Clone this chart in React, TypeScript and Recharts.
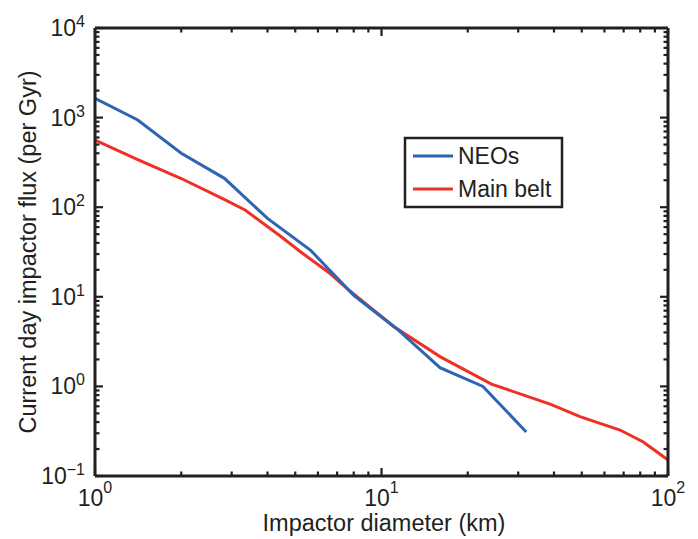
import React from 'react';
import { LineChart, Line, XAxis, YAxis, ReferenceLine } from 'recharts';

const neoX = [1, 1.41, 2, 2.83, 4, 5.66, 8, 11.3, 16, 22.6, 32];
const neoY = [1640, 940, 400, 210, 75, 33, 10.4, 4.4, 1.62, 1.0, 0.31];

const beltX = [1, 1.41, 2, 2.8, 3.34, 4.42, 5.2, 6.6, 7.76, 11, 16, 24.2, 39, 49.3, 68, 82, 100];
const beltY = [562, 340, 209, 124, 93, 48, 32, 18.3, 11.6, 4.7, 2.15, 1.06, 0.63, 0.46, 0.326, 0.24, 0.151];

const xTicks = [1, 2, 3, 4, 5, 6, 7, 8, 9, 10, 20, 30, 40, 50, 60, 70, 80, 90, 100];
const yTicks = [
  0.1, 0.2, 0.3, 0.4, 0.5, 0.6, 0.7, 0.8, 0.9,
  1, 2, 3, 4, 5, 6, 7, 8, 9,
  10, 20, 30, 40, 50, 60, 70, 80, 90,
  100, 200, 300, 400, 500, 600, 700, 800, 900,
  1000, 2000, 3000, 4000, 5000, 6000, 7000, 8000, 9000, 10000,
];
const xMajor = [1, 10, 100];
const yMajor = [0.1, 1, 10, 100, 1000, 10000];

const neoData = neoX.map((x, i) => ({ x, y: neoY[i] }));
const beltData = beltX.map((x, i) => ({ x, y: beltY[i] }));

const INK = '#231f20';
const BLUE = '#2e64b4';
const RED = '#ee3124';
const FONT = 'Liberation Sans, Arial, Helvetica, sans-serif';

const expOf = (v: number) => Math.round(Math.log10(v));
const isMajor = (v: number) => Math.abs(Math.log10(v) - Math.round(Math.log10(v))) < 1e-6;
const expStr = (e: number) => (e < 0 ? '\u2212' + Math.abs(e) : String(e));

const MAJ = 8;
const MIN = 4.5;

const BottomLabel = (props: any) => {
  const { x, y, payload } = props;
  return (
    <text x={x} y={y + 30} textAnchor="middle" fontSize={23} fill={INK} fontFamily={FONT}>
      10
      <tspan dy={-13} fontSize={16}>{expStr(expOf(payload.value))}</tspan>
    </text>
  );
};

const LeftLabel = (props: any) => {
  const { x, y, payload } = props;
  return (
    <text x={x - 10} y={y + 8} textAnchor="end" fontSize={23} fill={INK} fontFamily={FONT}>
      10
      <tspan dy={-9} fontSize={16}>{expStr(expOf(payload.value))}</tspan>
    </text>
  );
};

const VTick = (props: any) => {
  const { x1, y1, y2, len } = props;
  const top = Math.min(y1, y2);
  const bot = Math.max(y1, y2);
  return (
    <g>
      <line x1={x1} x2={x1} y1={bot} y2={bot - len} stroke={INK} strokeWidth={2.2} />
      <line x1={x1} x2={x1} y1={top} y2={top + len} stroke={INK} strokeWidth={2.2} />
    </g>
  );
};

const HTick = (props: any) => {
  const { x1, x2, y1, len } = props;
  const l = Math.min(x1, x2);
  const r = Math.max(x1, x2);
  return (
    <g>
      <line x1={l} x2={l + len} y1={y1} y2={y1} stroke={INK} strokeWidth={2.2} />
      <line x1={r} x2={r - len} y1={y1} y2={y1} stroke={INK} strokeWidth={2.2} />
    </g>
  );
};

export default function App() {
  return (
    <div style={{ position: 'absolute', left: 0, top: 0, width: 698, height: 539, background: '#fff' }}>
      <LineChart
        width={698}
        height={539}
        margin={{ top: 28, right: 30, bottom: 23, left: 35 }}
      >
        <XAxis
          dataKey="x"
          type="number"
          scale="log"
          domain={[1, 100]}
          allowDataOverflow
          ticks={xMajor}
          interval={0}
          tickSize={0}
          tickMargin={0}
          tickLine={false}
          axisLine={false}
          tick={<BottomLabel />}
          height={40}
        />
        <YAxis
          dataKey="y"
          type="number"
          scale="log"
          domain={[0.1, 10000]}
          allowDataOverflow
          ticks={yMajor}
          interval={0}
          tickSize={0}
          tickMargin={0}
          tickLine={false}
          axisLine={false}
          tick={<LeftLabel />}
          width={60}
        />
        {xTicks.map((v) => (
          <ReferenceLine
            key={'xt' + v}
            x={v}
            ifOverflow="visible"
            stroke={INK}
            shape={(p: any) => <VTick {...p} len={isMajor(v) ? MAJ : MIN} />}
          />
        ))}
        {yTicks.map((v) => (
          <ReferenceLine
            key={'yt' + v}
            y={v}
            ifOverflow="visible"
            stroke={INK}
            shape={(p: any) => <HTick {...p} len={isMajor(v) ? MAJ : MIN} />}
          />
        ))}
        <Line
          data={beltData}
          dataKey="y"
          stroke={RED}
          strokeWidth={3}
          dot={false}
          isAnimationActive={false}
          type="linear"
        />
        <Line
          data={neoData}
          dataKey="y"
          stroke={BLUE}
          strokeWidth={3}
          dot={false}
          isAnimationActive={false}
          type="linear"
        />
        <ReferenceLine x={1} ifOverflow="visible" stroke={INK} strokeWidth={3} />
        <ReferenceLine x={100} ifOverflow="visible" stroke={INK} strokeWidth={3} />
        <ReferenceLine y={0.1} ifOverflow="visible" stroke={INK} strokeWidth={3} />
        <ReferenceLine y={10000} ifOverflow="visible" stroke={INK} strokeWidth={3} />
      </LineChart>
      <svg
        width={698}
        height={539}
        style={{ position: 'absolute', left: 0, top: 0, pointerEvents: 'none' }}
      >
        <text x={384} y={531} textAnchor="middle" fontSize={23.5} fill={INK} fontFamily={FONT}>
          Impactor diameter (km)
        </text>
        <text
          transform="translate(36,252) rotate(-90)"
          textAnchor="middle"
          fontSize={23.5}
          fill={INK}
          fontFamily={FONT}
        >
          Current day impactor flux (per Gyr)
        </text>
        <rect x={405} y={138} width={157} height={69} fill="#fff" stroke={INK} strokeWidth={2.5} />
        <line x1={413} x2={453} y1={156} y2={156} stroke={BLUE} strokeWidth={3} />
        <text x={458} y={164} fontSize={23} fill={INK} fontFamily={FONT}>NEOs</text>
        <line x1={413} x2={453} y1={189} y2={189} stroke={RED} strokeWidth={3} />
        <text x={458} y={197} fontSize={23} fill={INK} fontFamily={FONT}>Main belt</text>
      </svg>
    </div>
  );
}
